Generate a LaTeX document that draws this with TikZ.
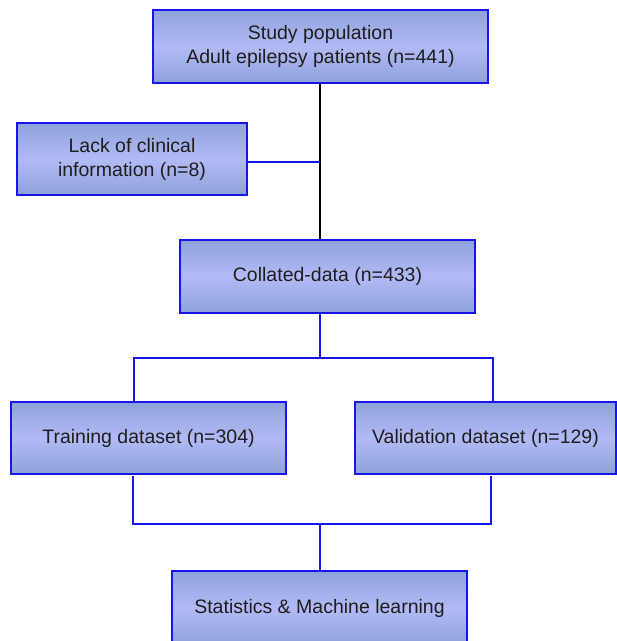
\documentclass[tikz,border=0pt]{standalone}
\usepackage{fontspec}
\setmainfont{Liberation Sans}
\definecolor{boxedge}{RGB}{22,22,235}
\definecolor{boxdark}{RGB}{142,162,216}
\definecolor{boxlight}{RGB}{178,186,246}
\definecolor{txt}{RGB}{30,30,30}
\begin{document}
\begin{tikzpicture}[x=1pt,y=-1pt,
  fbox/.style={draw=boxedge, line width=2.2pt, top color=boxdark, bottom color=boxdark,
    middle color=boxlight, inner sep=0pt, align=center, text=txt,
    font=\fontsize{19.5}{24}\selectfont},
  blueline/.style={draw=boxedge, line width=2.2pt},
  blackline/.style={draw=black, line width=2.2pt}]
\useasboundingbox (0,0) rectangle (617,641);
\node[fbox, minimum width=335pt, minimum height=73pt] (top) at (320.5,46.5)
  {Study population\\ Adult epilepsy patients (n=441)};
\node[fbox, minimum width=230pt, minimum height=72pt] (lack) at (132,159)
  {Lack of clinical\\information (n=8)};
\node[fbox, minimum width=295pt, minimum height=73pt] (coll) at (327.5,276.5)
  {Collated-data (n=433)};
\node[fbox, minimum width=275pt, minimum height=72pt] (train) at (148.5,438)
  {Training dataset (n=304)};
\node[fbox, minimum width=261pt, minimum height=72pt] (valid) at (485.5,438)
  {Validation dataset (n=129)};
\node[fbox, minimum width=295pt, minimum height=74pt] (stats) at (319.5,608)
  {Statistics \& Machine learning};
% coordinates
\coordinate (j1) at (320,162);
\coordinate (s1) at (320,358);
\coordinate (s1l) at (134,358);
\coordinate (s1r) at (493,358);
\coordinate (t1) at (134,402);
\coordinate (v1) at (493,402);
\coordinate (t2) at (133,476);
\coordinate (v2) at (491,476);
\coordinate (m1) at (133,524);
\coordinate (m2) at (491,524);
\coordinate (m0) at (320,524);
% connectors
\draw[blackline] (top.south -| j1) -- (coll.north -| j1);
\draw[blueline] (lack.east |- j1) -- (j1);
\draw[blueline] (coll.south -| s1) -- (s1);
\draw[blueline] (t1) -- (s1l) -- (s1r) -- (v1);
\draw[blueline] (t2) -- (m1) -- (m2) -- (v2);
\draw[blueline] (m0) -- (stats.north -| m0);
\end{tikzpicture}
\end{document}
